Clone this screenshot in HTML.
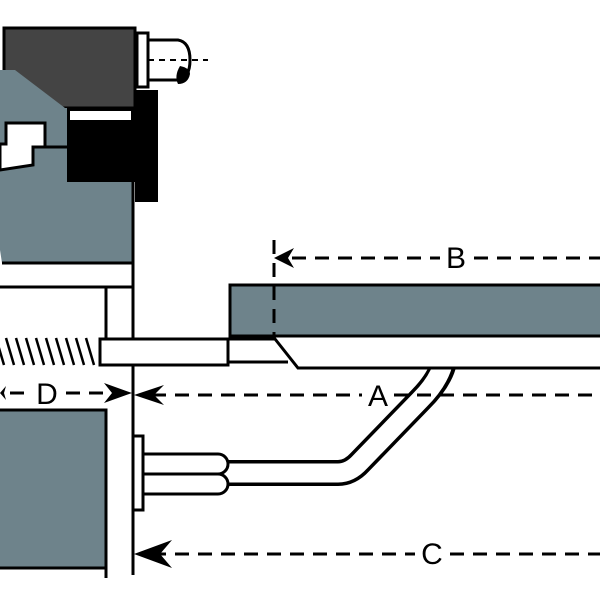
<!DOCTYPE html>
<html><head><style>html,body{margin:0;padding:0;background:#fff;width:600px;height:600px;overflow:hidden}</style></head>
<body>
<svg width="600" height="600" viewBox="0 0 600 600" xmlns="http://www.w3.org/2000/svg">
<!-- top assembly -->
<rect x="4" y="28" width="131" height="80" fill="#444" stroke="#000" stroke-width="3"/>
<polygon points="0,70 15,70 65,108 67,108 67,182 133,182 133,263 2,263 0,250" fill="#6e838b"/>
<polyline points="133,182 133,263 2,263" fill="none" stroke="#000" stroke-width="3"/>
<polygon points="67,108 135,108 135,90 158,90 158,202 135,202 135,182 67,182" fill="#000"/>
<rect x="70" y="111" width="61" height="9" fill="#fff"/>
<polygon points="0,144 6,144 6,123 45,123 45,147 33,147 33,165 0,170" fill="#fff" stroke="#000" stroke-width="3"/>
<line x1="45" y1="147" x2="67" y2="147" stroke="#000" stroke-width="3"/>
<!-- cap -->
<rect x="137" y="33" width="11" height="54" fill="#fff" stroke="#000" stroke-width="3"/>
<path d="M148,40 L178,40 Q190,42 190,60 Q190,78 178,80 L148,80 Z" fill="#fff" stroke="#000" stroke-width="3"/>
<line x1="148" y1="60" x2="208" y2="60" stroke="#000" stroke-width="2" stroke-dasharray="6,5"/>
<path d="M178,84 Q174,76 180,66 Q190,68 190,74 Q188,84 178,84Z" fill="#000"/>
<!-- frame -->
<line x1="0" y1="287" x2="133" y2="287" stroke="#000" stroke-width="3"/>
<line x1="133" y1="263" x2="133" y2="575" stroke="#000" stroke-width="3"/>
<line x1="106" y1="287" x2="106" y2="340" stroke="#000" stroke-width="3"/>
<!-- spring -->
<path d="M-4,338 L4,365 M6,338 L14,365 M16,338 L24,365 M26,338 L34,365 M36,338 L44,365 M46,338 L54,365 M56,338 L64,365 M66,338 L74,365 M76,338 L84,365 M86,338 L94,365" stroke="#000" stroke-width="2.5"/>
<!-- plate -->
<rect x="230" y="285" width="375" height="51" fill="#6e838b" stroke="#000" stroke-width="3"/>
<!-- grey box -->
<rect x="-5" y="410" width="111" height="158" fill="#6e838b" stroke="#000" stroke-width="3"/>
<line x1="106" y1="568" x2="106" y2="578" stroke="#000" stroke-width="3"/>
<!-- cable -->
<path d="M220,473 L338,473 Q350,473 360,462 L420,400 Q440,380 444,362" fill="none" stroke="#000" stroke-width="26"/>
<path d="M220,473 L338,473 Q350,473 360,462 L420,400 Q440,380 444,360" fill="none" stroke="#fff" stroke-width="19"/>
<!-- rod -->
<path d="M228,338 L600,338 L600,367 L298,367 Z" fill="#fff"/>
<rect x="100" y="339" width="128" height="26" fill="#fff" stroke="#000" stroke-width="3"/>
<polyline points="228,339 275,339 298,368 605,368" fill="none" stroke="#000" stroke-width="3"/>
<polyline points="228,362 288,362" fill="none" stroke="#000" stroke-width="3"/>
<!-- tubes -->
<path d="M143,454 L218,454 A10,10 0 0 1 218,474 L143,474 Z" fill="#fff" stroke="#000" stroke-width="3"/>
<path d="M143,474 L218,474 A10,10 0 0 1 218,494 L143,494 Z" fill="#fff" stroke="#000" stroke-width="3"/>
<rect x="133" y="436" width="10" height="74" fill="#fff" stroke="#000" stroke-width="3"/>
<!-- dimensions -->
<g stroke="#000" stroke-width="3" stroke-dasharray="14,9" fill="none">
<line x1="274" y1="240" x2="274" y2="340"/>
<line x1="292" y1="258" x2="440" y2="258"/>
<line x1="474" y1="258" x2="600" y2="258"/>
<line x1="152" y1="395" x2="362" y2="395"/>
<line x1="394" y1="395" x2="600" y2="395"/>
<line x1="10" y1="393" x2="30" y2="393"/>
<line x1="66" y1="393" x2="114" y2="393"/>
<line x1="152" y1="554" x2="415" y2="554"/>
<line x1="450" y1="554" x2="600" y2="554"/>
</g>
<path d="M274,258 L294,248 L288,258 L294,268 Z" fill="#000"/>
<path d="M134,395 L164,385 L154,395 L164,405 Z" fill="#000"/>
<path d="M132,393 L104,383 L112,393 L104,403 Z" fill="#000"/>
<path d="M0,393 L6,386 L4,393 L6,400 Z" fill="#000"/>
<path d="M134,554 L172,540 L160,554 L172,568 Z" fill="#000"/>
<g font-family="Liberation Sans, sans-serif" font-size="30" text-anchor="middle" fill="#000">
<text x="456" y="268">B</text>
<text x="378" y="406">A</text>
<text x="47" y="404">D</text>
<text x="432" y="564">C</text>
</g>
</svg>
</body></html>
